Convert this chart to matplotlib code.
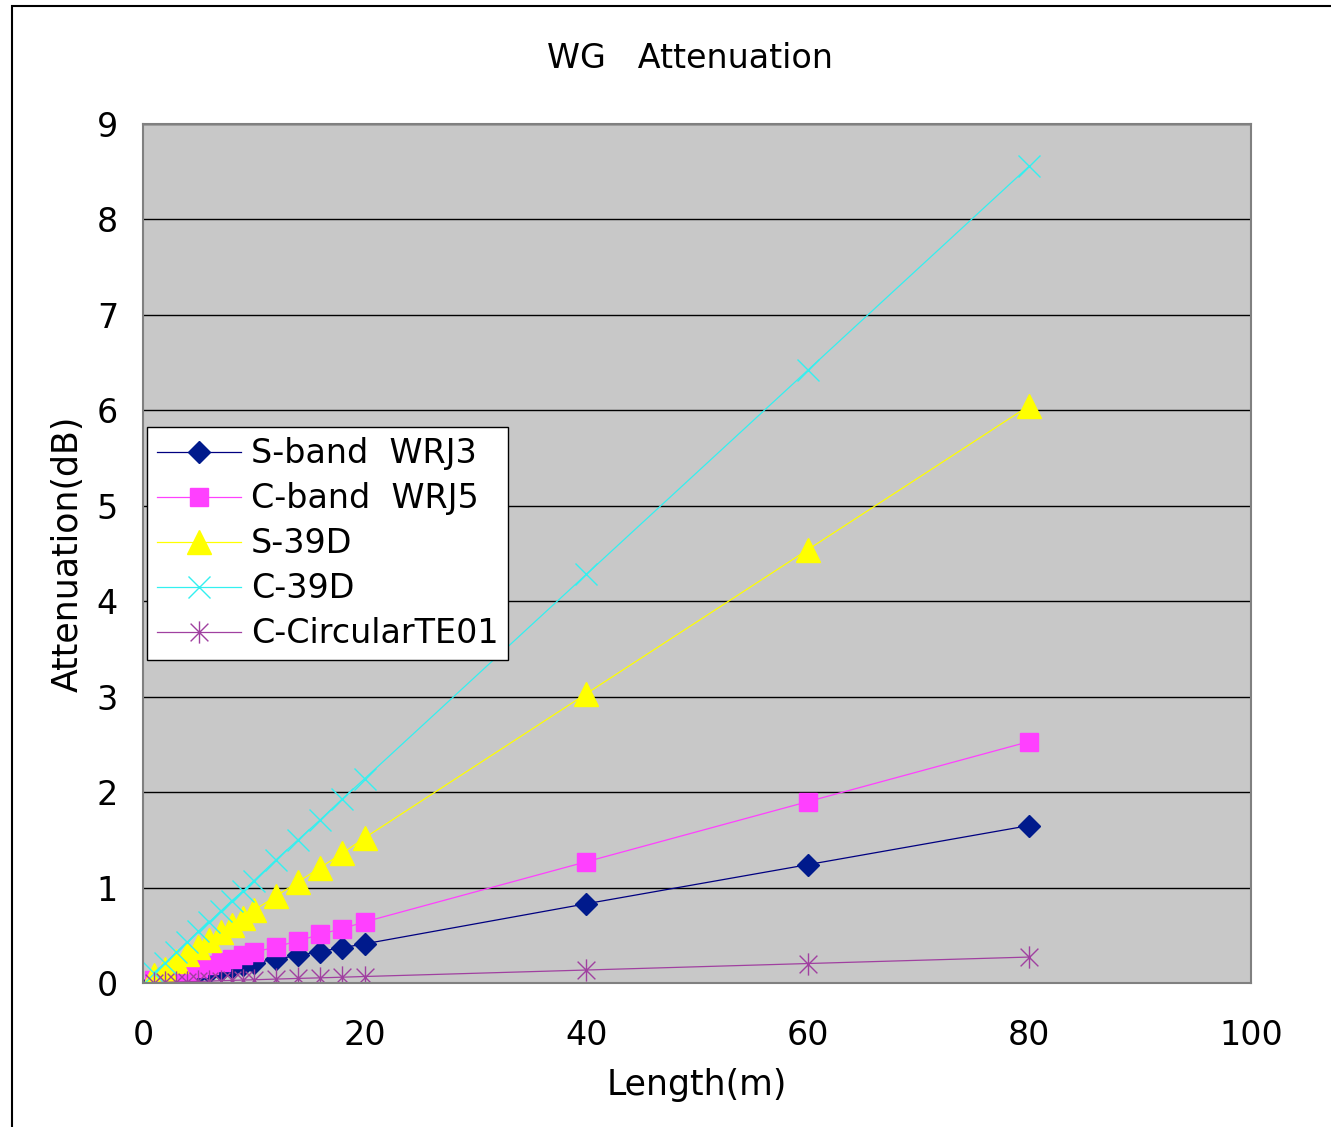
import matplotlib.pyplot as plt
import numpy as np
from matplotlib.path import Path
from matplotlib.patches import Rectangle

# lengths (m) at which attenuation was computed
length = [1, 2, 3, 4, 5, 6, 7, 8, 9, 10, 12, 14, 16, 18, 20, 40, 60, 80]

s_wrj3 = [0.02, 0.04, 0.06, 0.08, 0.10, 0.12, 0.14, 0.17, 0.19, 0.21,
          0.25, 0.29, 0.33, 0.37, 0.41, 0.83, 1.24, 1.65]
c_wrj5 = [0.03, 0.06, 0.10, 0.13, 0.16, 0.19, 0.22, 0.25, 0.29, 0.32,
          0.38, 0.44, 0.51, 0.57, 0.64, 1.27, 1.90, 2.53]
s_39d = [0.08, 0.15, 0.23, 0.30, 0.38, 0.45, 0.53, 0.61, 0.68, 0.76,
         0.91, 1.06, 1.21, 1.36, 1.52, 3.03, 4.54, 6.05]
c_39d = [0.11, 0.21, 0.32, 0.43, 0.54, 0.64, 0.75, 0.86, 0.96, 1.07,
         1.29, 1.50, 1.71, 1.93, 2.14, 4.28, 6.42, 8.56]
c_te01 = [0.003, 0.007, 0.010, 0.014, 0.017, 0.020, 0.024, 0.027, 0.031, 0.034,
          0.041, 0.048, 0.054, 0.061, 0.068, 0.136, 0.204, 0.272]

labels = ["S-band  WRJ3", "C-band  WRJ5", "S-39D", "C-39D", "C-CircularTE01"]

plt.rcParams['font.family'] = ['DejaVu Sans']

# Excel style asterisk: vertical bar plus X
star = Path([(0, -1), (0, 1), (-0.8, -0.8), (0.8, 0.8), (-0.8, 0.8), (0.8, -0.8)],
            [Path.MOVETO, Path.LINETO, Path.MOVETO, Path.LINETO, Path.MOVETO, Path.LINETO])

fig = plt.figure(figsize=(13.31, 11.27), dpi=100)
fig.patches.append(Rectangle((12 / 1331, -0.1), 1.2, 1 - 6 / 1127 + 0.1, transform=fig.transFigure,
                             fill=False, edgecolor='black', linewidth=1.5))
ax = fig.add_axes([143 / 1331, 1 - 983 / 1127, 1108 / 1331, 859 / 1127])
ax.set_facecolor('#C8C8C8')

ax.plot(length, s_wrj3, color='#000080', lw=0.9, marker='D', ms=11,
        mfc='#001A8C', mec='#001A8C', label=labels[0])
ax.plot(length, c_wrj5, color='#FF40FF', lw=0.9, marker='s', ms=13,
        mfc='#FF40FF', mec='#FF40FF', label=labels[1])
ax.plot(length, s_39d, color='#FFFF00', lw=0.9, marker='^', ms=17,
        mfc='#FFFF00', mec='#FFFF00', label=labels[2])
ax.plot(length, c_39d, color='#33F0F0', lw=0.9, marker='x', ms=16, mew=1.0,
        mec='#33F0F0', label=labels[3])
ax.plot(length, c_te01, color='#A040A0', lw=0.9, marker=star, ms=16, mew=1.0,
        mec='#A040A0', label=labels[4])

ax.set_xlim(0, 100)
ax.set_ylim(0, 9)
ax.set_xticks(np.arange(0, 101, 20))
ax.set_yticks(np.arange(0, 10, 1))
ax.grid(axis='y', color='black', linewidth=1.0)
ax.set_axisbelow(True)
for side in ['left', 'bottom', 'top', 'right']:
    ax.spines[side].set_color('#808080')
    ax.spines[side].set_linewidth(1.5)
ax.tick_params(axis='x', length=0, pad=26, labelsize=24)
ax.tick_params(axis='y', length=0, pad=18, labelsize=24)

fig.text(690 / 1331, 1 - 58 / 1127, "WG   Attenuation", fontsize=24,
         ha='center', va='center')
ax.set_xlabel("Length(m)", fontsize=25)
ax.set_ylabel("Attenuation(dB)", fontsize=25)
ax.xaxis.set_label_coords(0.5, (983 - 1085) / 859)
ax.xaxis.label.set_va('center')
ax.yaxis.set_label_coords((68 - 143) / 1108, 0.5)
ax.yaxis.label.set_va('center')

leg = ax.legend(loc='upper left', bbox_to_anchor=(0.004, 0.647), borderaxespad=0,
                fontsize=24, frameon=True, fancybox=False, handlelength=2.5,
                handletextpad=0.3, labelspacing=0.36, borderpad=0.3)
leg.get_frame().set_edgecolor('black')
leg.get_frame().set_facecolor('white')
leg.get_frame().set_alpha(1)

plt.savefig("out.png", dpi=100)
